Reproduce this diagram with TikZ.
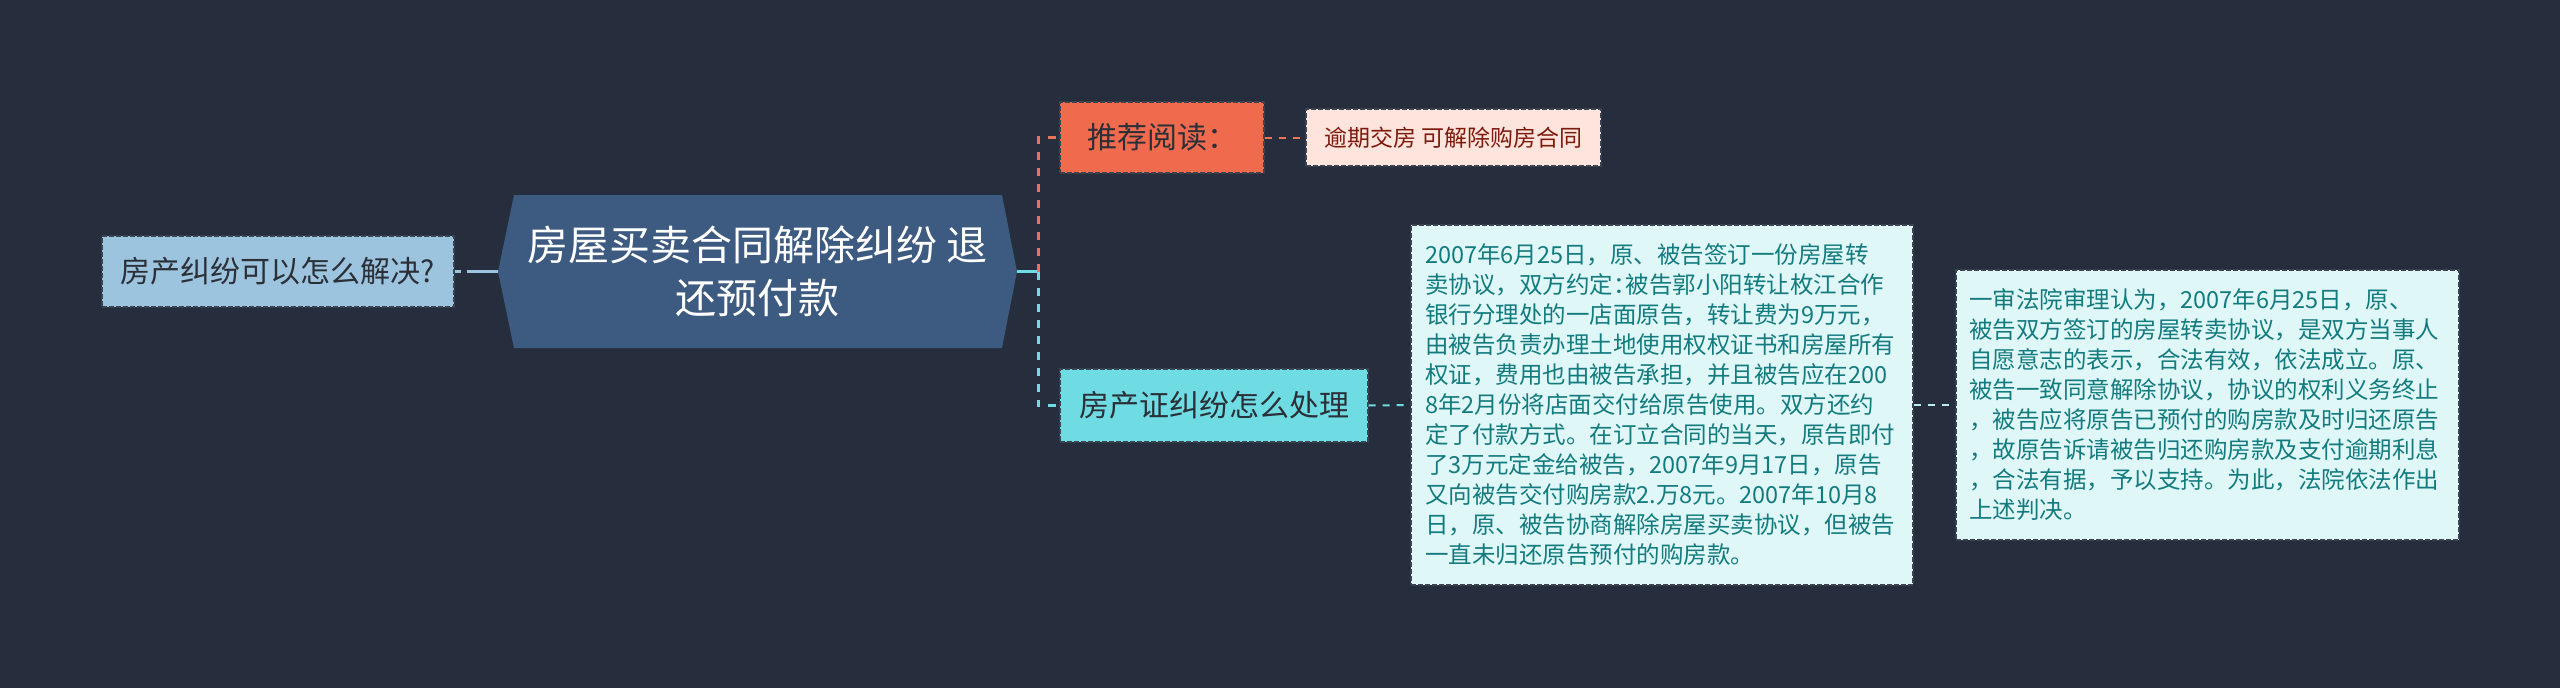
\documentclass[tikz,border=0pt]{standalone}
\usepackage{fontspec}
\setmainfont{Noto Sans CJK SC}
\definecolor{bgc}{HTML}{262E3D}
\definecolor{hexc}{HTML}{3D5A80}
\definecolor{leftc}{HTML}{9DC4DE}
\definecolor{orc}{HTML}{F06A4D}
\definecolor{pinkc}{HTML}{FDE4DD}
\definecolor{pinktxt}{HTML}{7E1A0C}
\definecolor{cyc}{HTML}{6EDCE2}
\definecolor{boxc}{HTML}{E0F7F8}
\definecolor{boxtxt}{HTML}{137B7E}
\definecolor{bord}{HTML}{3B4351}
\definecolor{darktxt}{HTML}{2A2F38}
\definecolor{orline}{HTML}{E8745A}
\definecolor{cyline}{HTML}{6EDCE2}
\definecolor{lcyline}{HTML}{B8ECEF}
\newcommand\hw[1]{\makebox[0.55em][l]{#1}}
\tikzset{
  mmnode/.style={draw=bord, line width=1.3pt, dash pattern=on 5pt off 2pt, inner sep=0pt, align=center},
  bigfont/.style={font=\fontsize{30}{36}\selectfont},
  boxfont/.style={font=\fontsize{23.5}{30}\selectfont},
  link/.style={line width=3pt},
  dlink/.style={line width=3pt, dash pattern=on 8pt off 8pt},
  thinlink/.style={line width=2pt, dash pattern=on 7pt off 7pt}
}
\begin{document}
\begin{tikzpicture}[x=1pt,y=-1pt]
\fill[bgc] (0,0) rectangle (2560,688);
\useasboundingbox (0,0) rectangle (2560,688);

% central hexagon
\fill[hexc] (498,271.5) -- (514,195) -- (1002,195) -- (1017,271.5) -- (1002,348) -- (514,348) -- cycle;
\node[font=\fontsize{41}{53}\selectfont, text=white, align=center, minimum width=519pt, minimum height=153pt, inner sep=0pt] (c) at (757.5,271.5) {房屋买卖合同解除纠纷 退\\还预付款};

% left node
\node[mmnode, fill=leftc, bigfont, text=darktxt, minimum width=352pt, minimum height=71pt] (q) at (278,271.5) {房产纠纷可以怎么解决?};

% branch nodes
\node[mmnode, fill=orc, bigfont, text=darktxt, minimum width=204pt, minimum height=71pt] (r) at (1162,137.5) {推荐阅读：};
\node[mmnode, fill=pinkc, text=pinktxt, font=\fontsize{23}{28}\selectfont, minimum width=295pt, minimum height=57pt] (l) at (1453.5,137.5) {逾期交房 可解除购房合同};
\node[mmnode, fill=cyc, bigfont, text=darktxt, minimum width=308pt, minimum height=73pt] (f) at (1214,405.5) {房产证纠纷怎么处理};

\node[mmnode, fill=boxc, text=boxtxt, boxfont, align=left, text width=474pt, inner xsep=14pt, minimum height=360pt] (b1) at (1662,405) {2007年6月25日，原、被告签订一份房屋转\\卖协议，双方约定\hw{：}被告郭小阳转让枚江合作\\银行分理处的一店面原告，转让费为9万元，\\由被告负责办理土地使用权权证书和房屋所有\\权证，费用也由被告承担，并且被告应在200\\8年2月份将店面交付给原告使用。双方还约\\定了付款方式。在订立合同的当天，原告即付\\了3万元定金给被告，2007年9月17日，原告\\又向被告交付购房款2.万8元。2007年10月8\\日，原、被告协商解除房屋买卖协议，但被告\\一直未归还原告预付的购房款。};

\node[mmnode, fill=boxc, text=boxtxt, boxfont, align=left, text width=477pt, inner xsep=13pt, minimum height=270pt] (b2) at (2207.5,405) {一审法院审理认为，2007年6月25日，原、\\被告双方签订的房屋转卖协议，是双方当事人\\自愿意志的表示，合法有效，依法成立。原、\\被告一致同意解除协议，协议的权利义务终止\\，被告应将原告已预付的购房款及时归还原告\\，故原告诉请被告归还购房款及支付逾期利息\\，合法有据，予以支持。为此，法院依法作出\\上述判决。};

% connectors
\draw[leftc, link, dash pattern=on 6pt off 6pt on 40pt] (q.east) -- (c.west);
\coordinate (j) at (1038,271.5);
\draw[cyline, link] (c.east) -- (j);
\draw[orline, dlink] (j) |- (r.west);
\draw[cyline, dlink] (j) |- (f.west);
\draw[orline, thinlink] (r.east) -- (l.west);
\draw[cyline, thinlink] (f.east) -- (b1.west);
\draw[lcyline, thinlink] (b1.east) -- (b2.west);
\end{tikzpicture}
\end{document}
